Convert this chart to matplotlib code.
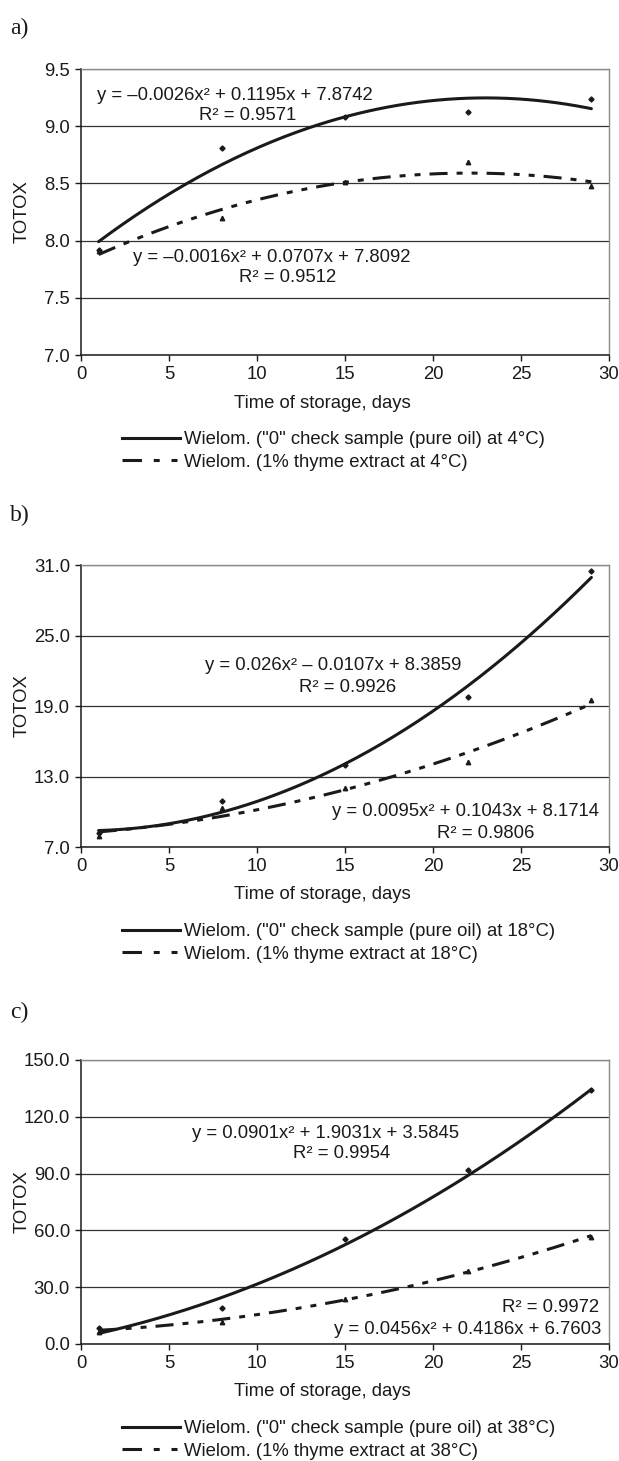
import numpy as np
import matplotlib
matplotlib.use('Agg')
import matplotlib.pyplot as plt
from matplotlib.lines import Line2D

plt.rcParams['font.family'] = ['Liberation Sans', 'DejaVu Sans']
plt.rcParams['lines.scale_dashes'] = False

# dane
days = [1, 8, 15, 22, 29]

a_control = [7.92, 8.81, 9.08, 9.12, 9.24]
a_thyme = [7.91, 8.20, 8.51, 8.69, 8.48]
b_control = [8.2, 10.9, 14.0, 19.8, 30.5]
b_thyme = [7.9, 10.3, 12.0, 14.2, 19.5]
c_control = [8.5, 19.2, 55.4, 91.7, 134.0]
c_thyme = [6.3, 11.6, 23.6, 38.6, 56.6]

# wspolczynniki trendu (wielomian 2 stopnia) z etykiet
a_control_fit = [-0.0026, 0.1195, 7.8742]
a_thyme_fit = [-0.0016, 0.0707, 7.8092]
b_control_fit = [0.026, -0.0107, 8.3859]
b_thyme_fit = [0.0095, 0.1043, 8.1714]
c_control_fit = [0.0901, 1.9031, 3.5845]
c_thyme_fit = [0.0456, 0.4186, 6.7603]

a_labels = ['y = \u20130.0026x\u00b2 + 0.1195x + 7.8742', 'R\u00b2 = 0.9571',
            'y = \u20130.0016x\u00b2 + 0.0707x + 7.8092', 'R\u00b2 = 0.9512']
b_labels = ['y = 0.026x\u00b2 \u2013 0.0107x + 8.3859', 'R\u00b2 = 0.9926',
            'y = 0.0095x\u00b2 + 0.1043x + 8.1714', 'R\u00b2 = 0.9806']
c_labels = ['y = 0.0901x\u00b2 + 1.9031x + 3.5845', 'R\u00b2 = 0.9954',
            'y = 0.0456x\u00b2 + 0.4186x + 6.7603', 'R\u00b2 = 0.9972']

a_yticks = [7.0, 7.5, 8.0, 8.5, 9.0, 9.5]
b_yticks = [7.0, 13.0, 19.0, 25.0, 31.0]
c_yticks = [0.0, 30.0, 60.0, 90.0, 120.0, 150.0]
x_ticks = [0, 5, 10, 15, 20, 25, 30]

W, H = 619, 1461
INK = '#1a1a1a'
FS = 13.3
DASH = (0, (13, 6.5, 4.3, 6.5, 4.3, 6.5))

fig = plt.figure(figsize=(W / 100, H / 100), dpi=100)


def px(x, y):
    return x / W, 1 - y / H


panels = [
    # tag, tag_y, top, bottom, control, thyme, fits, yticks, labels, label positions, temp
    ('a)', 28, 69, 355, a_control, a_thyme, (a_control_fit, a_thyme_fit), a_yticks, a_labels,
     [(235, 95), (248, 115), (272, 257), (288, 278)], '4'),
    ('b)', 515, 565, 847, b_control, b_thyme, (b_control_fit, b_thyme_fit), b_yticks, b_labels,
     [(333, 666), (348, 688), (465, 812), (486, 833)], '18'),
    ('c)', 1012, 1060, 1344, c_control, c_thyme, (c_control_fit, c_thyme_fit), c_yticks, c_labels,
     [(326, 1133), (342, 1154), (468, 1329), (550, 1308)], '38'),
]

xs = np.linspace(1, 29, 200)

for tag, tag_y, top, bottom, ctrl, thy, fits, yticks, labels, lpos, temp in panels:
    left, right = 81, 609
    ax = fig.add_axes([left / W, 1 - bottom / H, (right - left) / W, (bottom - top) / H])

    ax.plot(xs, np.polyval(fits[0], xs), color=INK, lw=2.2, solid_capstyle='round')
    ax.plot(xs, np.polyval(fits[1], xs), color=INK, lw=2.2, linestyle=DASH)
    ax.plot(days, ctrl, 'D', color=INK, ms=2.6, zorder=4)
    ax.plot(days, thy, '^', color=INK, ms=3.2, zorder=4)

    ax.set_xlim(0, 30)
    ax.set_ylim(yticks[0], yticks[-1])
    ax.set_xticks(x_ticks)
    ax.set_yticks(yticks)
    ax.set_yticklabels(['%.1f' % v for v in yticks])
    ax.yaxis.grid(True, color='#333333', lw=0.9)
    ax.set_axisbelow(True)
    ax.tick_params(direction='out', length=4, width=1, colors=INK, labelsize=FS, pad=4)
    for s in ['left', 'bottom']:
        ax.spines[s].set_color(INK)
        ax.spines[s].set_linewidth(1.1)
    for s in ['top', 'right']:
        ax.spines[s].set_color('#8a8a8a')
        ax.spines[s].set_linewidth(1.0)

    for txt, (tx, ty) in zip(labels, lpos):
        fig.text(*px(tx, ty), txt, ha='center', va='center', fontsize=FS, color=INK)

    fig.text(*px(322, bottom + 48), 'Time of storage, days', ha='center', va='center',
             fontsize=FS, color=INK)
    fig.text(*px(22, (top + bottom) / 2), 'TOTOX', rotation=90, ha='center', va='center',
             fontsize=FS, color=INK)
    fig.text(*px(10, tag_y), tag, ha='left', va='center', fontsize=17, color=INK,
             family='Liberation Serif')

    handles = [Line2D([], [], color=INK, lw=2.2),
               Line2D([], [], color=INK, lw=2.2, linestyle=(0, (14, 8.5, 4.3, 8.5, 4.3, 8.5)))]
    names = ['Wielom. ("0" check sample (pure oil) at %s\u00b0C)' % temp,
             'Wielom. (1%% thyme extract at %s\u00b0C)' % temp]
    fig.legend(handles, names, loc='upper left', bbox_to_anchor=px(122, bottom + 76),
               frameon=False, fontsize=FS, handlelength=3.15, handletextpad=0.22,
               labelspacing=0.3, borderpad=0, borderaxespad=0, labelcolor=INK)

fig.savefig('out.png', dpi=100)
